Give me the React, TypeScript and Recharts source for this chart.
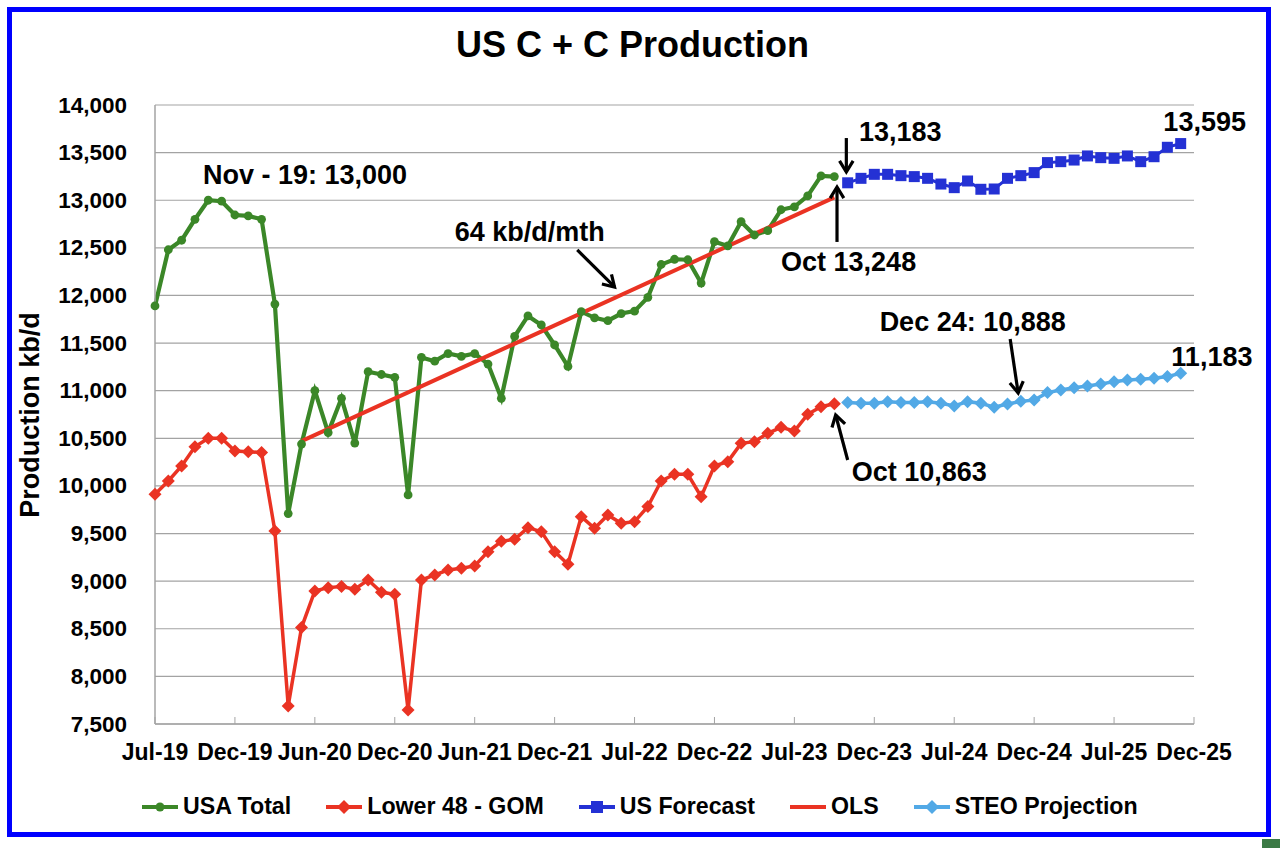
import React from 'react';
import {
  LineChart,
  Line,
  XAxis,
  YAxis,
  CartesianGrid,
  ReferenceDot,
  ReferenceLine,
} from 'recharts';

const FONT = '"Liberation Sans", Arial, Helvetica, sans-serif';

const GREEN = '#3B8728';
const RED = '#EA3323';
const BLUE = '#2431D4';
const LIGHT_BLUE = '#52A9E6';
const GRID = '#A3A3A3';

const MARGIN = { top: 105, right: 86, bottom: 84, left: 75 };
const Y_AXIS_WIDTH = 80;

// x is a month index, 0 = Jul-19
const xTickLabels = [
  'Jul-19', 'Dec-19', 'Jun-20', 'Dec-20', 'Jun-21', 'Dec-21', 'Jul-22',
  'Dec-22', 'Jul-23', 'Dec-23', 'Jul-24', 'Dec-24', 'Jul-25', 'Dec-25',
];
const xTicks = [0, 6, 12, 18, 24, 30, 36, 42, 48, 54, 60, 66, 72, 78];
const yTicks = [
  7500, 8000, 8500, 9000, 9500, 10000, 10500, 11000, 11500, 12000, 12500,
  13000, 13500, 14000,
];

// Jul-19 .. Oct-23
const usaTotal = [
  11890, 12480, 12580, 12800, 13000, 12990, 12845, 12835, 12800, 11910,
  9710, 10440, 11000, 10560, 10920, 10450, 11200, 11170, 11140, 9905,
  11350, 11310, 11390, 11360, 11390, 11280, 10920, 11570, 11785, 11690,
  11480, 11255, 11830, 11765, 11735, 11810, 11835, 11980, 12325, 12380,
  12375, 12130, 12565, 12520, 12775, 12635, 12680, 12900, 12930, 13045,
  13255, 13248,
];

// Jul-19 .. Oct-23
const lower48Gom = [
  9912, 10052, 10210, 10412, 10500, 10500, 10367, 10360, 10350, 9527,
  7690, 8513, 8897, 8932, 8943, 8915, 9012, 8883, 8862, 7647,
  9012, 9065, 9117, 9135, 9160, 9310, 9418, 9440, 9562, 9520,
  9310, 9177, 9677, 9555, 9695, 9607, 9625, 9783, 10052, 10122,
  10122, 9887, 10210, 10255, 10447, 10465, 10552, 10615, 10577, 10752,
  10832, 10863,
];

// Nov-23 .. Dec-25
const FORECAST_START = 52;
const usForecast = [
  13183, 13230, 13272, 13272, 13258, 13248, 13230, 13170, 13132, 13202,
  13115, 13118, 13230, 13258, 13290, 13395, 13405, 13422, 13465, 13447,
  13440, 13465, 13405, 13457, 13556, 13595,
];
const steoProjection = [
  10875, 10868, 10868, 10885, 10875, 10875, 10885, 10868, 10840, 10885,
  10868, 10826, 10860, 10888, 10902, 10980, 11008, 11032, 11050, 11070,
  11095, 11112, 11120, 11130, 11148, 11183,
];

// OLS trend end points (Jun-20 .. Oct-23, 64 kb/d/mth)
const olsMonths = [11, 51];
const olsValues = [10470, 13030];

const toPoints = (vals: number[], start: number) =>
  vals.map((v, i) => ({ m: start + i, v }));

const usaData = toPoints(usaTotal, 0);
const lowerData = toPoints(lower48Gom, 0);
const forecastData = toPoints(usForecast, FORECAST_START);
const steoData = toPoints(steoProjection, FORECAST_START);
const olsData = olsMonths.map((m, i) => ({ m, v: olsValues[i] }));

// annotation texts, placed in data units (left edge, vertical centre)
const notes = [
  { text: 'Nov - 19: 13,000', m: 3.6, v: 13265 },
  { text: '64 kb/d/mth', m: 22.5, v: 12667 },
  { text: '13,183', m: 52.85, v: 13720 },
  { text: 'Oct 13,248', m: 47.0, v: 12355 },
  { text: '13,595', m: 75.7, v: 13825 },
  { text: 'Dec 24: 10,888', m: 54.4, v: 11725 },
  { text: '11,183', m: 76.3, v: 11357 },
  { text: 'Oct 10,863', m: 52.3, v: 10150 },
];

const arrows = [
  { from: [31.7, 12478], to: [34.5, 12089] },
  { from: [51.9, 13653], to: [51.9, 13296] },
  { from: [51.2, 12562], to: [51.2, 13139] },
  { from: [64.2, 11543], to: [64.8, 10976] },
  { from: [52.0, 10272], to: [51.1, 10745] },
];

const ArrowShape = (p: any) => {
  const { x1, y1, x2, y2 } = p;
  const ang = Math.atan2(y2 - y1, x2 - x1);
  const len = 13;
  const spread = 0.55;
  const ax = x2 - len * Math.cos(ang - spread);
  const ay = y2 - len * Math.sin(ang - spread);
  const bx = x2 - len * Math.cos(ang + spread);
  const by = y2 - len * Math.sin(ang + spread);
  return (
    <g>
      <line x1={x1} y1={y1} x2={x2} y2={y2} stroke="#000" strokeWidth={3.2} />
      <polyline
        points={`${ax},${ay} ${x2},${y2} ${bx},${by}`}
        fill="none"
        stroke="#000"
        strokeWidth={3.2}
      />
    </g>
  );
};

const circleDot = (p: any) => (
  <circle key={p.index} cx={p.cx} cy={p.cy} r={4.4} fill={GREEN} stroke="none" />
);

const diamond = (color: string) => (p: any) => (
  <polygon
    key={p.index}
    points={`${p.cx},${p.cy - 6.5} ${p.cx + 6.5},${p.cy} ${p.cx},${p.cy + 6.5} ${p.cx - 6.5},${p.cy}`}
    fill={color}
  />
);

const squareDot = (p: any) => (
  <rect key={p.index} x={p.cx - 5.5} y={p.cy - 5.5} width={11} height={11} fill={BLUE} />
);

const XTick = (props: any) => {
  const { x, y, payload } = props;
  const label = xTickLabels[xTicks.indexOf(payload.value)];
  return (
    <g>
      <line x1={x} x2={x} y1={y} y2={y - 7} stroke={GRID} strokeWidth={1} />
      <text
        x={x}
        y={y + 36}
        textAnchor="middle"
        fontFamily={FONT}
        fontWeight="bold"
        fontSize={23}
        fill="#000"
      >
        {label}
      </text>
    </g>
  );
};

const YTick = (props: any) => {
  const { y, payload } = props;
  return (
    <text
      x={MARGIN.left + Y_AXIS_WIDTH - 28}
      y={y}
      textAnchor="end"
      dominantBaseline="central"
      fontFamily={FONT}
      fontWeight="bold"
      fontSize={22.5}
      fill="#000"
    >
      {payload.value.toLocaleString('en-US')}
    </text>
  );
};

const legendItems = [
  { name: 'USA Total', color: GREEN, marker: 'circle' },
  { name: 'Lower 48 - GOM', color: RED, marker: 'diamond' },
  { name: 'US Forecast', color: BLUE, marker: 'square' },
  { name: 'OLS', color: RED, marker: 'none' },
  { name: 'STEO Projection', color: LIGHT_BLUE, marker: 'diamond' },
];

const LegendIcon = ({ color, marker }: { color: string; marker: string }) => (
  <svg width={36} height={20} style={{ display: 'block' }}>
    <line x1={0} x2={36} y1={10} y2={10} stroke={color} strokeWidth={4} />
    {marker === 'circle' && <circle cx={18} cy={10} r={4.5} fill={color} />}
    {marker === 'diamond' && (
      <polygon points="18,3 25,10 18,17 11,10" fill={color} />
    )}
    {marker === 'square' && <rect x={12} y={4} width={12} height={12} fill={color} />}
  </svg>
);

export default function App() {
  return (
    <div
      style={{
        position: 'relative',
        width: 1280,
        height: 848,
        background: '#fff',
        fontFamily: FONT,
        overflow: 'hidden',
      }}
    >
      <style>{'body{margin:0}'}</style>
      <div
        style={{
          position: 'absolute',
          left: 7,
          top: 7,
          width: 1264,
          height: 830,
          border: '5px solid #0000FF',
          boxSizing: 'border-box',
        }}
      />
      <div
        style={{
          position: 'absolute',
          left: 1262,
          top: 839,
          width: 18,
          height: 9,
          background: '#3B7A45',
        }}
      />
      <div
        style={{
          position: 'absolute',
          left: 0,
          width: 1265,
          top: 23,
          textAlign: 'center',
          fontSize: 36,
          fontWeight: 'bold',
          lineHeight: '44px',
        }}
      >
        US C + C Production
      </div>
      <div
        style={{
          position: 'absolute',
          left: 30,
          top: 415,
          transform: 'translate(-50%, -50%) rotate(-90deg)',
          fontSize: 27,
          fontWeight: 'bold',
          whiteSpace: 'nowrap',
        }}
      >
        Production kb/d
      </div>

      <div style={{ position: 'absolute', left: 0, top: 0 }}>
        <LineChart width={1280} height={848} margin={MARGIN}>
          <CartesianGrid vertical={false} stroke={GRID} strokeWidth={1.2} />
          <XAxis
            dataKey="m"
            type="number"
            domain={[0, 78]}
            ticks={xTicks}
            interval={0}
            height={40}
            tickSize={0}
            tickMargin={0}
            tickLine={false}
            axisLine={{ stroke: GRID, strokeWidth: 1.5 }}
            tick={<XTick />}
            allowDuplicatedCategory={false}
          />
          <YAxis
            type="number"
            domain={[7500, 14000]}
            ticks={yTicks}
            interval={0}
            width={Y_AXIS_WIDTH}
            tickSize={0}
            tickLine={false}
            axisLine={{ stroke: GRID, strokeWidth: 1.5 }}
            tick={<YTick />}
          />
          <Line
            data={usaData}
            dataKey="v"
            stroke={GREEN}
            strokeWidth={4.2}
            dot={circleDot}
            activeDot={false}
            isAnimationActive={false}
          />
          <Line
            data={lowerData}
            dataKey="v"
            stroke={RED}
            strokeWidth={3.5}
            dot={diamond(RED)}
            activeDot={false}
            isAnimationActive={false}
          />
          <Line
            data={forecastData}
            dataKey="v"
            stroke={BLUE}
            strokeWidth={3}
            dot={squareDot}
            activeDot={false}
            isAnimationActive={false}
          />
          <Line
            data={olsData}
            dataKey="v"
            stroke={RED}
            strokeWidth={4}
            dot={false}
            activeDot={false}
            isAnimationActive={false}
          />
          <Line
            data={steoData}
            dataKey="v"
            stroke={LIGHT_BLUE}
            strokeWidth={3.5}
            dot={diamond(LIGHT_BLUE)}
            activeDot={false}
            isAnimationActive={false}
          />
          {arrows.map((a, i) => (
            <ReferenceLine
              key={'a' + i}
              segment={[
                { x: a.from[0], y: a.from[1] },
                { x: a.to[0], y: a.to[1] },
              ]}
              ifOverflow="visible"
              shape={ArrowShape}
            />
          ))}
          {notes.map((n, i) => (
            <ReferenceDot
              key={'n' + i}
              x={n.m}
              y={n.v}
              r={0}
              ifOverflow="visible"
              shape={(p: any) => (
                <text
                  x={p.cx}
                  y={p.cy}
                  dominantBaseline="central"
                  fontFamily={FONT}
                  fontWeight="bold"
                  fontSize={27}
                  fill="#000"
                >
                  {n.text}
                </text>
              )}
            />
          ))}
        </LineChart>
      </div>

      <div
        style={{
          position: 'absolute',
          left: 142,
          top: 793,
          display: 'flex',
          alignItems: 'center',
          gap: 35,
          fontSize: 23.2,
          fontWeight: 'bold',
          whiteSpace: 'nowrap',
        }}
      >
        {legendItems.map((it) => (
          <div key={it.name} style={{ display: 'flex', alignItems: 'center', gap: 5 }}>
            <LegendIcon color={it.color} marker={it.marker} />
            <span>{it.name}</span>
          </div>
        ))}
      </div>
    </div>
  );
}
